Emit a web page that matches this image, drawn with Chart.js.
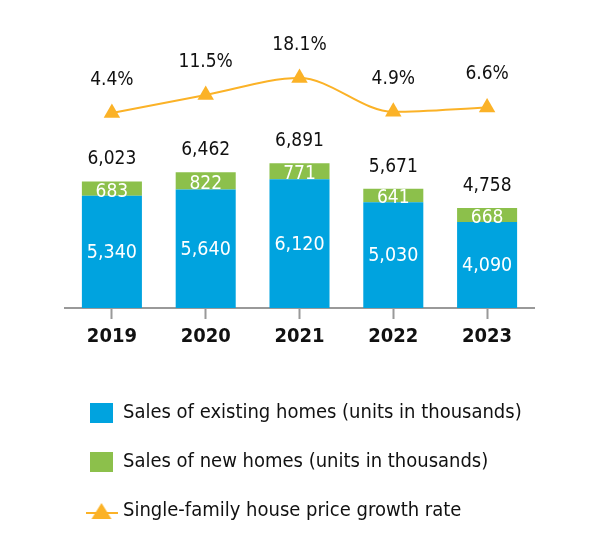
<!DOCTYPE html>
<html>
<head>
<meta charset="utf-8">
<script src="https://cdn.jsdelivr.net/npm/chart.js@4/dist/chart.umd.min.js"></script>
<style>
  html, body { margin: 0; padding: 0; background: #fff; }
  #wrap { width: 600px; height: 540px; }
</style>
</head>
<body>
<div id="wrap"><canvas id="salesChart" width="600" height="540"></canvas></div>
<script>
// values
const years = ['2019', '2020', '2021', '2022', '2023'];
const existingHomes = [5340, 5640, 6120, 5030, 4090];
const newHomes = [683, 822, 771, 641, 668];
const totalSales = [6023, 6462, 6891, 5671, 4758];
const priceGrowth = [4.4, 11.5, 18.1, 4.9, 6.6];

const FONT = '"Liberation Sans Narrow", "DejaVu Sans Condensed", "Liberation Sans", Arial, sans-serif';
const BLUE = '#00a3df';
const GREEN = '#8cc04b';
const ORANGE = '#fbb227';

// legend icon for the line series: short line with a triangle on it
function lineIcon() {
    const c = document.createElement('canvas');
    c.width = 32; c.height = 22;
    const g = c.getContext('2d');
    g.strokeStyle = ORANGE;
    g.lineWidth = 2;
    g.beginPath(); g.moveTo(0, 13); g.lineTo(32, 13); g.stroke();
    g.fillStyle = ORANGE;
    g.beginPath(); g.moveTo(16, 3); g.lineTo(26, 19); g.lineTo(6, 19); g.closePath(); g.fill();
    return c;
}

const valueLabels = {
    id: 'valueLabels',
    afterDatasetsDraw(chart) {
        const ctx = chart.ctx;
        ctx.save();
        ctx.textAlign = 'center';
        ctx.textBaseline = 'middle';
        const blue = chart.getDatasetMeta(1).data;
        const green = chart.getDatasetMeta(2).data;
        const line = chart.getDatasetMeta(0).data;
        blue.forEach((bar, i) => {
            ctx.fillStyle = '#fff';
            ctx.font = '19.5px ' + FONT;
            ctx.fillText(existingHomes[i].toLocaleString('en-US'), bar.x, (bar.y + bar.base) / 2 + 1);
        });
        green.forEach((bar, i) => {
            ctx.fillStyle = '#fff';
            ctx.font = '19px ' + FONT;
            ctx.fillText(newHomes[i].toLocaleString('en-US'), bar.x, (bar.y + bar.base) / 2 + 3);
            ctx.fillStyle = '#111';
            ctx.fillText(totalSales[i].toLocaleString('en-US'), bar.x, bar.y - 22);
        });
        line.forEach((pt, i) => {
            ctx.fillStyle = '#111';
            ctx.font = '19px ' + FONT;
            ctx.fillText(priceGrowth[i].toFixed(1) + '%', pt.x, pt.y - 33);
        });
        ctx.restore();
    }
};

new Chart(document.getElementById('salesChart'), {
    type: 'bar',
    data: {
        labels: years,
        datasets: [{
            type: 'line',
            label: 'Single-family house price growth rate',
            data: priceGrowth,
            yAxisID: 'yRate',
            borderColor: ORANGE,
            borderWidth: 2,
            backgroundColor: ORANGE,
            pointStyle: 'triangle',
            pointRadius: 9.5,
            pointHoverRadius: 9.5,
            pointBorderWidth: 0,
            tension: 0.4,
            cubicInterpolationMode: 'monotone',
            order: 0
        }, {
            label: 'Sales of existing homes (units in thousands)',
            data: existingHomes,
            backgroundColor: BLUE,
            stack: 'sales',
            yAxisID: 'y',
            order: 1
        }, {
            label: 'Sales of new homes (units in thousands)',
            data: newHomes,
            backgroundColor: GREEN,
            stack: 'sales',
            yAxisID: 'y',
            order: 1
        }]
    },
    options: {
        responsive: false,
        animation: false,
        maintainAspectRatio: false,
        layout: { padding: { left: 61, right: 66, top: 20, bottom: 9 } },
        datasets: { bar: { barPercentage: 0.64, categoryPercentage: 1 } },
        scales: {
            x: {
                stacked: true,
                grid: {
                    display: true,
                    drawOnChartArea: false,
                    drawTicks: true,
                    tickLength: 11,
                    tickWidth: 2,
                    offset: false,
                    color: '#999'
                },
                border: { display: true, color: '#999', width: 2 },
                ticks: {
                    color: '#111',
                    padding: 6,
                    font: { family: FONT, size: 20, weight: 'bold' }
                },
                afterFit: (scale) => { scale.height += 19; }
            },
            y: {
                stacked: true,
                display: true,
                min: 0,
                max: 13700,
                grid: { display: false },
                border: { display: false },
                ticks: { display: false },
                afterFit: (scale) => { scale.width = 4; }
            },
            yRate: {
                display: false,
                min: -71.8,
                max: 40.8
            }
        },
        plugins: {
            tooltip: { enabled: false },
            legend: {
                position: 'bottom',
                align: 'start',
                labels: {
                    usePointStyle: true,
                    pointStyleWidth: 23,
                    padding: 29,
                    color: '#111',
                    font: { family: FONT, size: 20 },
                    generateLabels: (chart) => {
                        const items = Chart.defaults.plugins.legend.labels.generateLabels(chart);
                        items.forEach(item => {
                            if (item.datasetIndex === 0) {
                                item.pointStyle = lineIcon();
                            } else {
                                item.pointStyle = 'rect';
                                item.lineWidth = 0;
                            }
                        });
                        // bars first, line last, as in the picture
                        return items.sort((a, b) => (a.datasetIndex === 0) - (b.datasetIndex === 0) || a.datasetIndex - b.datasetIndex);
                    }
                }
            }
        }
    },
    plugins: [valueLabels]
});
</script>
</body>
</html>
